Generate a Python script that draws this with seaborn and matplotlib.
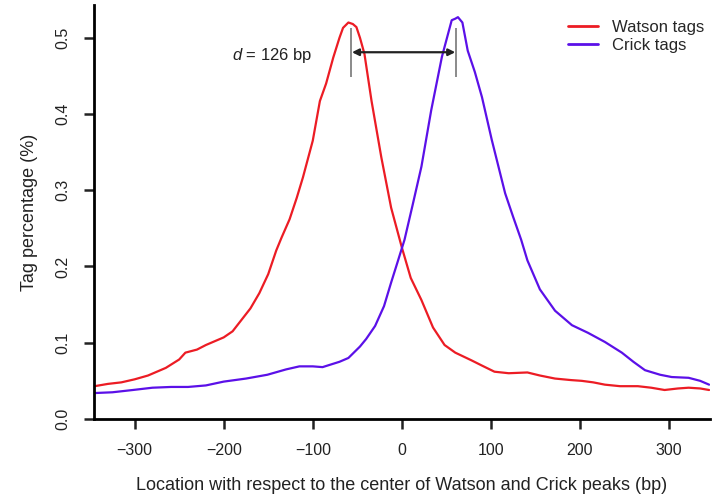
import numpy as np
import pandas as pd
import matplotlib
matplotlib.use("Agg")
import matplotlib.pyplot as plt
import seaborn as sns

# Watson (red) tag profile
watson_x = [-345, -330, -315, -300, -285, -265, -250, -243, -230, -220, -210, -200,
            -190, -180, -170, -160, -150, -141, -135, -126, -118, -111, -100, -92,
            -85, -77, -70, -66, -60, -55, -51, -47, -42, -34, -23, -12, 0, 10, 22,
            35, 48, 60, 78, 90, 104, 120, 141, 155, 172, 190, 202, 215, 228, 245,
            265, 280, 295, 310, 322, 335, 345]
watson_y = [0.043, 0.046, 0.048, 0.052, 0.057, 0.067, 0.078, 0.087, 0.091, 0.097,
            0.102, 0.107, 0.115, 0.130, 0.145, 0.165, 0.190, 0.221, 0.238, 0.262,
            0.290, 0.317, 0.365, 0.417, 0.440, 0.474, 0.500, 0.513, 0.520, 0.518,
            0.514, 0.500, 0.479, 0.417, 0.343, 0.277, 0.225, 0.185, 0.156, 0.120,
            0.097, 0.087, 0.077, 0.070, 0.062, 0.060, 0.061, 0.057, 0.053, 0.051,
            0.050, 0.048, 0.045, 0.043, 0.043, 0.041, 0.038, 0.040, 0.041, 0.040,
            0.038]

# Crick (blue) tag profile
crick_x = [-345, -325, -302, -280, -259, -240, -220, -200, -175, -151, -130, -115,
           -100, -89, -70, -60, -47, -40, -30, -20, -12, -5, 3, 12, 22, 33, 45, 56,
           60, 63, 68, 74, 82, 90, 101, 116, 125, 134, 141, 155, 172, 191, 209, 228,
           247, 260, 273, 290, 303, 322, 335, 345]
crick_y = [0.034, 0.035, 0.038, 0.041, 0.042, 0.042, 0.044, 0.049, 0.053, 0.058,
           0.065, 0.069, 0.069, 0.068, 0.075, 0.080, 0.095, 0.105, 0.122, 0.148,
           0.179, 0.205, 0.235, 0.280, 0.331, 0.405, 0.475, 0.523, 0.525, 0.527,
           0.520, 0.483, 0.455, 0.422, 0.366, 0.296, 0.265, 0.235, 0.208, 0.170,
           0.142, 0.123, 0.113, 0.101, 0.087, 0.075, 0.064, 0.058, 0.055, 0.054,
           0.050, 0.045]

peak_left, peak_right = -57, 61
x_ticks = [-300, -200, -100, 0, 100, 200, 300]
y_ticks = [0.0, 0.1, 0.2, 0.3, 0.4, 0.5]

sns.set_style("ticks")
plt.rcParams['font.family'] = ['Liberation Sans', 'DejaVu Sans']
plt.rcParams['mathtext.fontset'] = 'custom'
plt.rcParams['mathtext.it'] = 'Liberation Sans:italic'
plt.rcParams['mathtext.rm'] = 'Liberation Sans'

df = pd.concat([
    pd.DataFrame({'x': watson_x, 'y': watson_y, 'strand': 'Watson tags'}),
    pd.DataFrame({'x': crick_x, 'y': crick_y, 'strand': 'Crick tags'}),
])

fig = plt.figure(figsize=(7.15, 4.97), dpi=100)
ax = fig.add_axes([0.131, 0.157, 0.862, 0.833])
sns.lineplot(data=df, x='x', y='y', hue='strand', sort=False,
             palette={'Watson tags': '#ec1c24', 'Crick tags': '#5b10e8'},
             linewidth=1.6, ax=ax)

ax.set_xlim(-346, 346)
ax.set_ylim(0, 0.543)
ax.set_xticks(x_ticks)
ax.set_xticklabels([str(t).replace('-', '\u2212') for t in x_ticks])
ax.set_yticks(y_ticks)
ax.set_yticklabels([f"{t:.1f}" for t in y_ticks], rotation=90, va='center')
ax.tick_params(axis='both', length=7, width=1.8, labelsize=11.5, colors='#222222')
ax.tick_params(axis='x', pad=10)
ax.tick_params(axis='y', pad=10)
for s in ['top', 'right']:
    ax.spines[s].set_visible(False)
for s in ['left', 'bottom']:
    ax.spines[s].set_linewidth(2)
    ax.spines[s].set_color('black')

ax.set_xlabel('Location with respect to the center of Watson and Crick peaks (bp)',
              fontsize=13, labelpad=14, color='#222222')
ax.set_ylabel('Tag percentage (%)', fontsize=13, labelpad=12, color='#222222')

# peak distance annotation
ax.vlines([peak_left, peak_right], 0.449, 0.513, color='#777777', lw=1.2)
ax.annotate('', xy=(peak_right - 1, 0.481), xytext=(peak_left + 1, 0.481),
            arrowprops=dict(arrowstyle='<|-|>', color='#222222', lw=1.6,
                            mutation_scale=10, shrinkA=0, shrinkB=0))
ax.text(-101, 0.477, r'$d$ = 126 bp', ha='right', va='center', fontsize=12,
        color='#222222')

leg = ax.legend(loc='upper right', bbox_to_anchor=(1.005, 0.985), frameon=False,
                fontsize=12, handlelength=1.8, handletextpad=0.85,
                borderaxespad=0.0, labelspacing=0.2, borderpad=0.5)
for h in leg.get_lines():
    h.set_linewidth(2)

fig.savefig('out.png', dpi=100)
